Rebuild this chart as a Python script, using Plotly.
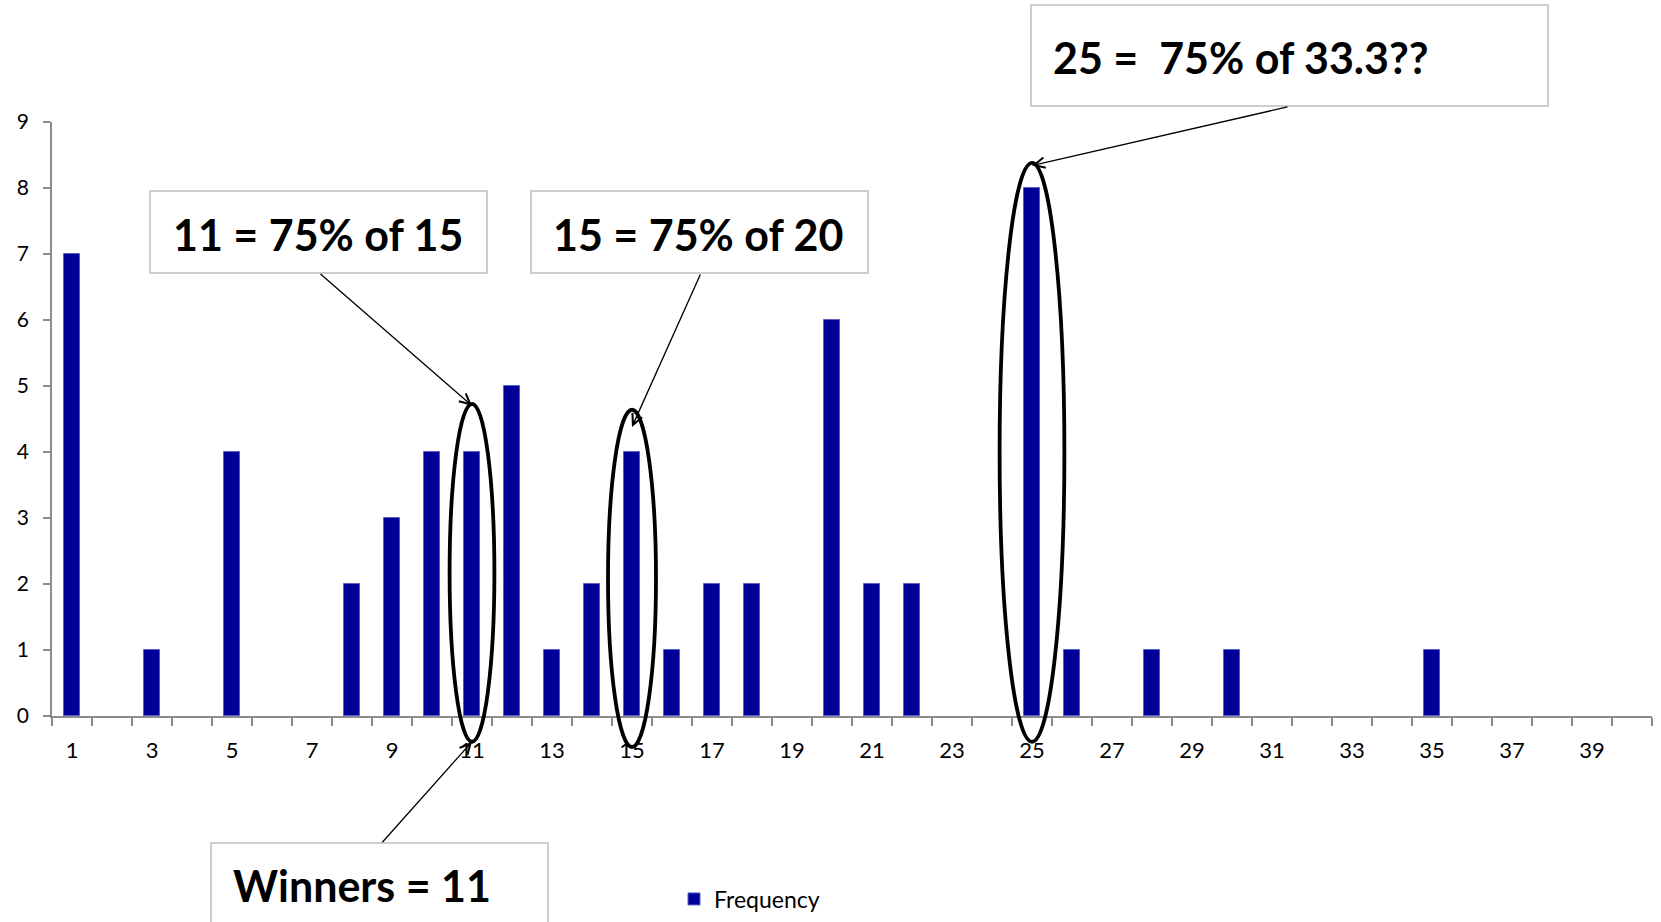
import plotly.graph_objects as go

# Frequency of each guessed number (1..40)
numbers = list(range(1, 41))
frequency = [7, 0, 1, 0, 4, 0, 0, 2, 3, 4,
             4, 5, 1, 2, 4, 1, 2, 2, 0, 6,
             2, 2, 0, 0, 8, 1, 0, 1, 0, 1,
             0, 0, 0, 0, 1, 0, 0, 0, 0, 0]
tick_labels = [str(n) for n in range(1, 40, 2)]

# Guesses that are circled, and the callout text for each
circled = [11, 15, 25]
callouts = ["11 = 75% of 15", "15 = 75% of 20", "25 =&nbsp; 75% of 33.3??"]
winner_text = "Winners = 11"

W, H = 1661, 922
L, R, T, B = 52, 9, 122, 206
PW, PH = W - L - R, H - T - B
YMAX = 9


def px(x):
    return (x - L) / PW


def py(y):
    return (H - B - y) / PH


fig = go.Figure()
fig.add_trace(go.Bar(
    x=numbers, y=frequency, name="Frequency", width=0.4,
    marker=dict(color="#000099",
                line=dict(color="#5b5bc8", width=[1 if f > 0 else 0 for f in frequency])),
    showlegend=True,
))

shapes = []
annotations = []

# ellipses around the circled bars (x half-width, top, bottom in data units)
ellipse_geom = {11: (0.56, 4.73, -0.39), 15: (0.6, 4.64, -0.47), 25: (0.81, 8.38, -0.39)}
for n in circled:
    hw, top, bot = ellipse_geom[n]
    shapes.append(dict(type="circle", xref="x", yref="y domain",
                       x0=n - hw, x1=n + hw, y0=bot / YMAX, y1=top / YMAX,
                       line=dict(color="black", width=3.8), layer="above"))

# callout boxes (pixel rectangles) and text
boxes = [(150, 191, 487, 273), (531, 191, 868, 273), (1031, 5, 1548, 106), (211, 843, 548, 960)]
text_pos = [(171, 234), (551, 234), (1051, 57), (231, 885)]
texts = callouts + [winner_text]
for (x0, y0, x1, y1), (tx, ty), t in zip(boxes, text_pos, texts):
    shapes.append(dict(type="rect", xref="paper", yref="paper",
                       x0=px(x0), x1=px(x1), y0=py(y1), y1=py(y0),
                       line=dict(color="#bfbfbf", width=1.5), fillcolor="white", layer="above"))
    annotations.append(dict(text=t, xref="paper", yref="paper", x=px(tx), y=py(ty),
                            xanchor="left", yanchor="middle", showarrow=False,
                            font=dict(family="Lato", size=43, color="black", weight="bold")))

# arrows: head in data coords, tail offset in pixels
arrows = [(11, 4.70, -153, -133), (15, 4.38, 69, -154), (25, 8.34, 257, -59), (11, -0.39, -91, 102)]
for x, y, ax, ay in arrows:
    annotations.append(dict(text="", xref="x", yref="y domain", x=x, y=y / YMAX,
                            ax=ax, ay=ay, axref="pixel", ayref="pixel",
                            showarrow=True, arrowhead=5, arrowsize=1.6, arrowwidth=1.3,
                            arrowcolor="black", standoff=0))

fig.update_layout(
    width=W, height=H,
    margin=dict(l=L, r=R, t=T, b=B, pad=0, autoexpand=False),
    paper_bgcolor="white", plot_bgcolor="white",
    font=dict(family="Lato", color="black"),
    shapes=shapes, annotations=annotations,
    bargap=0,
    legend=dict(orientation="h", xref="container", yref="container",
                x=674 / W, y=(H - 899) / H, xanchor="left", yanchor="middle",
                font=dict(family="Lato", size=23, color="black"), bgcolor="rgba(0,0,0,0)"),
    xaxis=dict(
        range=[0.5, 40.5], tickmode="array", tickvals=list(range(1, 40, 2)), ticktext=tick_labels,
        ticks="", showgrid=False, zeroline=False, showline=True, linecolor="#8c8c8c", linewidth=1.5,
        tickfont=dict(family="Lato", size=22, color="black"), ticklabelstandoff=14,
        minor=dict(tickmode="linear", tick0=0.5, dtick=1, ticks="outside", ticklen=8,
                   tickcolor="#8c8c8c", tickwidth=1.5, showgrid=False),
    ),
    yaxis=dict(
        range=[0, YMAX], dtick=1, ticks="outside", ticklen=7, tickcolor="#8c8c8c", tickwidth=1.5,
        showgrid=False, zeroline=False, showline=True, linecolor="#8c8c8c", linewidth=1.5,
        tickfont=dict(family="Lato", size=21, color="black"), ticklabelstandoff=10,
    ),
)

fig.write_html("out.html")
